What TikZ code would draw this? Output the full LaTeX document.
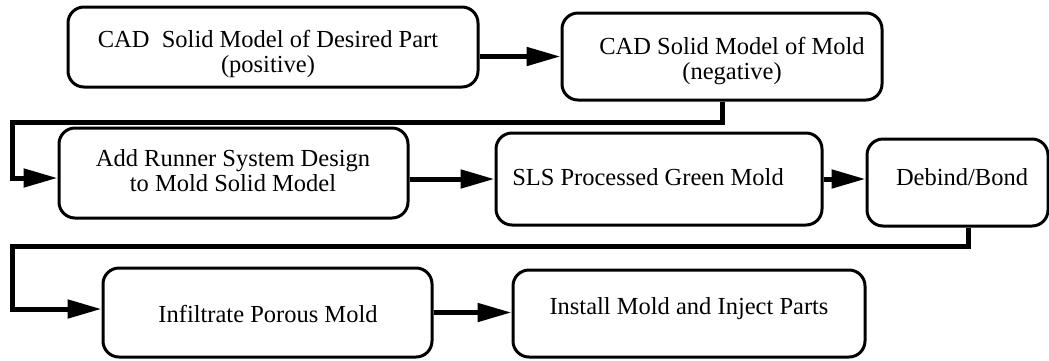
\documentclass[tikz,border=0pt]{standalone}
\usepackage{fontspec}
\setmainfont{Liberation Serif}
\usetikzlibrary{arrows.meta}
\begin{document}
\begin{tikzpicture}[x=1pt,y=-1pt,
  box/.style={draw, line width=3pt, rounded corners=16pt, inner sep=0pt},
  lbl/.style={font=\fontsize{24.5}{25}\selectfont, align=center, inner sep=0pt},
  flow/.style={line width=5pt, line join=miter, -{Triangle[length=34pt,width=18pt]}}]
\useasboundingbox (0,0) rectangle (1049,360);

% process steps
\node[box, minimum width=410pt, minimum height=80pt] (b1) at (273,47) {};
\node[box, minimum width=320pt, minimum height=87pt] (b2) at (722,56.5) {};
\node[box, minimum width=349pt, minimum height=90pt] (b3) at (233.5,173) {};
\node[box, minimum width=326pt, minimum height=92pt] (b4) at (659,179) {};
\node[box, minimum width=181pt, minimum height=87pt] (b5) at (957.5,182.5) {};
\node[box, minimum width=329pt, minimum height=89pt] (b6) at (267.5,312.5) {};
\node[box, minimum width=352pt, minimum height=87pt] (b7) at (689,313.5) {};

% step labels
\node[lbl] (t1) at (268,54) {CAD\ \ Solid Model of Desired Part\\(positive)};
\node[lbl] (t2) at (732,61) {CAD Solid Model of Mold\\(negative)};
\node[lbl] (t3) at (233,171) {Add Runner System Design\\to Mold Solid Model};
\node[lbl] (t4) at (648,177) {SLS Processed Green Mold};
\node[lbl] (t5) at (962,177) {Debind/Bond};
\node[lbl] (t6) at (268,313.5) {Infiltrate Porous Mold};
\node[lbl] (t7) at (689,309) {Install Mold and Inject Parts};

% bend points of the return lines
\coordinate (k1) at (12,122);
\coordinate (k1b) at (12,178);
\coordinate (k2) at (968,246);
\coordinate (k3) at (12,246);
\coordinate (k4) at (12,309);

% flow connectors
\draw[flow] (b1.east |- b2.west) -- (b2.west);
\draw[flow] (b2.south) |- (k1) -- (k1b) -- (k1b -| b3.west);
\draw[flow] (b3.east |- b4.west) -- (b4.west);
\draw[flow] (b4.east) -- (b4.east -| b5.west);
\draw[flow] (k2 |- b5.south) -- (k2) -- (k3) -- (k4) -- (k4 -| b6.west);
\draw[flow] (b6.east) -- (b6.east -| b7.west);
\end{tikzpicture}
\end{document}
